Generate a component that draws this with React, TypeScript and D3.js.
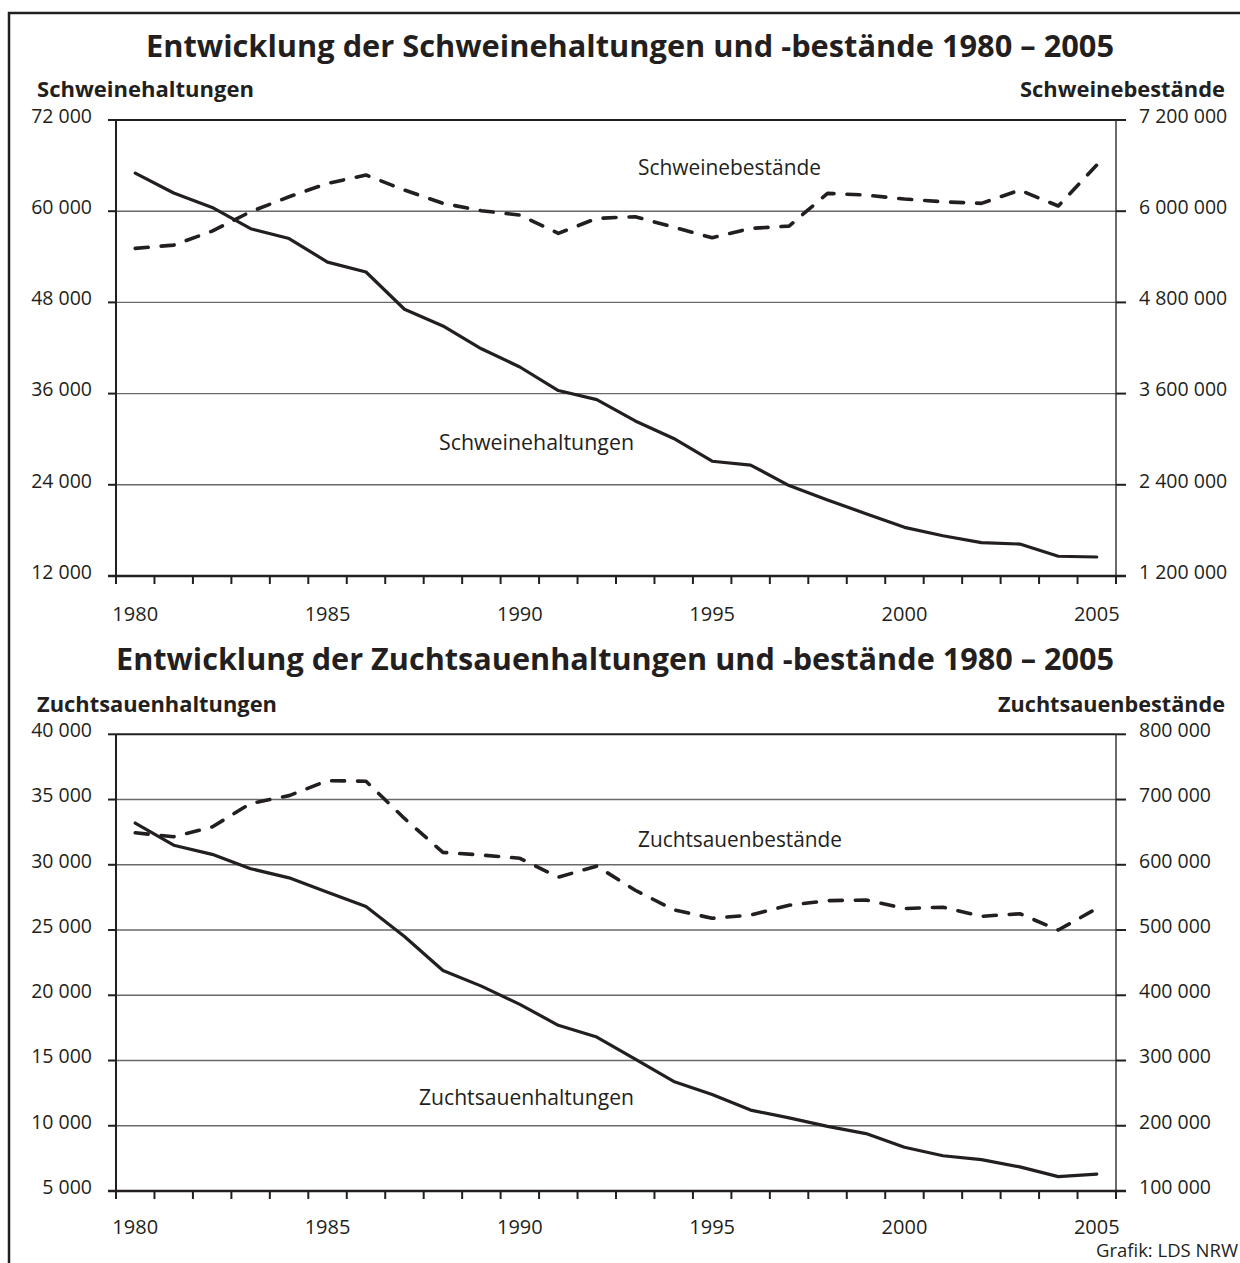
import React from 'react';
import * as d3 from 'd3';

// ---------- data ----------
const years = [1980, 1981, 1982, 1983, 1984, 1985, 1986, 1987, 1988, 1989, 1990, 1991, 1992,
  1993, 1994, 1995, 1996, 1997, 1998, 1999, 2000, 2001, 2002, 2003, 2004, 2005];
const yearLabels = [1980, 1985, 1990, 1995, 2000, 2005];

const schweineHaltungen = [65000, 62400, 60500, 57700, 56400, 53300, 52000, 47100, 44900, 41900,
  39500, 36400, 35200, 32400, 30100, 27100, 26600, 23900, 22000, 20200, 18400, 17300, 16400, 16200, 14600, 14500];
const schweineBestaende = [5511000, 5554000, 5738000, 5993000, 6190000, 6366000, 6476000, 6278000,
  6103000, 6006000, 5949000, 5708000, 5906000, 5927000, 5790000, 5650000, 5774000, 5804000, 6235000,
  6212000, 6160000, 6124000, 6103000, 6278000, 6068000, 6607000];

const zuchtHaltungen = [33200, 31500, 30800, 29700, 29000, 27900, 26800, 24500, 21900, 20700, 19300,
  17700, 16800, 15100, 13400, 12400, 11200, 10600, 9950, 9400, 8350, 7700, 7400, 6850, 6100, 6300];
const zuchtBestaende = [649000, 643000, 658000, 694000, 706000, 729000, 728000, 671000, 619000, 615000,
  610000, 581000, 598000, 561000, 531000, 518000, 523000, 538000, 545000, 546000, 533000, 535000,
  521000, 525000, 500000, 533000];

const leftTicksTop = [12000, 24000, 36000, 48000, 60000, 72000];
const rightTicksTop = [1200000, 2400000, 3600000, 4800000, 6000000, 7200000];
const leftTicksBottom = [5000, 10000, 15000, 20000, 25000, 30000, 35000, 40000];
const rightTicksBottom = [100000, 200000, 300000, 400000, 500000, 600000, 700000, 800000];

// ---------- style ----------
const INK = '#231f20';
const GRID = '#6a6a6a';
const FONT = '"Open Sans", "Noto Sans", sans-serif';
const X0 = 116;
const X1 = 1116;

const fmt = d3.formatLocale({ decimal: ',', thousands: ' ', grouping: [3], currency: ['', ''] }).format(',d');

type PanelProps = {
  top: number;
  bottom: number;
  leftTicks: number[];
  rightTicks: number[];
  solid: number[];
  dashed: number[];
  title: string;
  titleY: number;
  titleLen: number;
  leftTitle: string;
  leftTitleLen: number;
  rightTitle: string;
  rightTitleLen: number;
  subY: number;
  yearY: number;
  solidLabel: string;
  solidLabelPos: [number, number];
  solidLabelLen: number;
  dashedLabel: string;
  dashedLabelPos: [number, number];
  dashedLabelLen: number;
};

function Panel(p: PanelProps) {
  const x = d3.scaleBand<number>().domain(years).range([X0, X1]);
  const cx = (yr: number) => (x(yr) as number) + x.bandwidth() / 2;
  const yL = d3.scaleLinear().domain(d3.extent(p.leftTicks) as [number, number]).range([p.bottom, p.top]);
  const yR = d3.scaleLinear().domain(d3.extent(p.rightTicks) as [number, number]).range([p.bottom, p.top]);
  const lineL = d3.line<number>().x((_, i) => cx(years[i])).y((d) => yL(d));
  const lineR = d3.line<number>().x((_, i) => cx(years[i])).y((d) => yR(d));
  const xTicks = [...years.map((yr) => x(yr) as number), X1];
  const maxL = d3.max(p.leftTicks) as number;

  return (
    <g>
      <text x={1114 - p.titleLen} y={p.titleY} fontFamily={FONT} fontWeight={700} fontSize={30.5} fill={INK}
        textLength={p.titleLen} lengthAdjust="spacingAndGlyphs">
        {p.title}
      </text>
      <text x={37} y={p.subY} fontFamily={FONT} fontWeight={700} fontSize={20.5} fill={INK}
        textLength={p.leftTitleLen} lengthAdjust="spacingAndGlyphs">{p.leftTitle}</text>
      <text x={1225 - p.rightTitleLen} y={p.subY} fontFamily={FONT} fontWeight={700} fontSize={20.5} fill={INK}
        textLength={p.rightTitleLen} lengthAdjust="spacingAndGlyphs">{p.rightTitle}</text>

      {/* gridlines */}
      {p.leftTicks.map((t) => (
        <line key={'g' + t} x1={X0} x2={X1} y1={yL(t)} y2={yL(t)}
          stroke={t === maxL ? INK : GRID} strokeWidth={t === maxL ? 2 : 1.4} />
      ))}

      {/* series */}
      <path d={lineR(p.dashed) as string} fill="none" stroke={INK} strokeWidth={3.6}
        strokeDasharray="13 13" strokeLinecap="round" strokeLinejoin="round" />
      <path d={lineL(p.solid) as string} fill="none" stroke={INK} strokeWidth={3.2}
        strokeLinejoin="round" strokeLinecap="round" />

      {/* axes */}
      <line x1={X0} x2={X0} y1={p.top} y2={p.bottom + 1} stroke={INK} strokeWidth={2} />
      <line x1={X1} x2={X1} y1={p.top} y2={p.bottom} stroke={'#3a3a3a'} strokeWidth={1.5} />
      <line x1={X0 - 8} x2={X1 + 10} y1={p.bottom} y2={p.bottom} stroke={INK} strokeWidth={2.4} />
      {xTicks.map((tx, i) => (
        <line key={'xt' + i} x1={tx} x2={tx} y1={p.bottom} y2={p.bottom + 8} stroke={INK} strokeWidth={2} />
      ))}
      {p.leftTicks.map((t) => (
        <line key={'lt' + t} x1={X0 - 8} x2={X0} y1={yL(t)} y2={yL(t)} stroke={INK} strokeWidth={2} />
      ))}
      {p.rightTicks.map((t) => (
        <line key={'rt' + t} x1={X1} x2={X1 + 10} y1={yR(t)} y2={yR(t)} stroke={INK} strokeWidth={2} />
      ))}

      {/* tick labels */}
      {p.leftTicks.map((t) => (
        <text key={'ll' + t} x={92} y={yL(t) + 2.8} textAnchor="end" fontFamily={FONT} fontSize={19.5} fill={INK}>
          {fmt(t)}
        </text>
      ))}
      {p.rightTicks.map((t) => (
        <text key={'rl' + t} x={1139} y={yR(t) + 2.8} fontFamily={FONT} fontSize={19.5} fill={INK}>
          {fmt(t)}
        </text>
      ))}
      {yearLabels.map((yr) => (
        <text key={'yl' + yr} x={cx(yr)} y={p.yearY} textAnchor="middle" fontFamily={FONT} fontSize={20} fill={INK}>
          {yr}
        </text>
      ))}

      {/* series labels */}
      <text x={p.solidLabelPos[0]} y={p.solidLabelPos[1]} fontFamily={FONT} fontSize={21} fill={INK}
        textLength={p.solidLabelLen} lengthAdjust="spacingAndGlyphs">{p.solidLabel}</text>
      <text x={p.dashedLabelPos[0]} y={p.dashedLabelPos[1]} fontFamily={FONT} fontSize={21} fill={INK}
        textLength={p.dashedLabelLen} lengthAdjust="spacingAndGlyphs">{p.dashedLabel}</text>
    </g>
  );
}

export default function App() {
  return (
    <svg width={1240} height={1263} viewBox="0 0 1240 1263"
      style={{ position: 'absolute', left: 0, top: 0, display: 'block', background: '#fff' }}>
      <rect x={0} y={0} width={1240} height={1263} fill="#fff" />
      <rect x={9} y={13} width={1400} height={1400} fill="none" stroke={INK} strokeWidth={2.5} />
      <Panel
        top={120} bottom={576}
        leftTicks={leftTicksTop} rightTicks={rightTicksTop}
        solid={schweineHaltungen} dashed={schweineBestaende}
        title="Entwicklung der Schweinehaltungen und -bestände 1980 – 2005" titleY={57} titleLen={968}
        leftTitle="Schweinehaltungen" leftTitleLen={217}
        rightTitle="Schweinebestände" rightTitleLen={205} subY={97}
        yearY={621}
        solidLabel="Schweinehaltungen" solidLabelPos={[439, 450]} solidLabelLen={195}
        dashedLabel="Schweinebestände" dashedLabelPos={[638, 175]} dashedLabelLen={183}
      />
      <Panel
        top={734.3} bottom={1191}
        leftTicks={leftTicksBottom} rightTicks={rightTicksBottom}
        solid={zuchtHaltungen} dashed={zuchtBestaende}
        title="Entwicklung der Zuchtsauenhaltungen und -bestände 1980 – 2005" titleY={670} titleLen={998}
        leftTitle="Zuchtsauenhaltungen" leftTitleLen={240}
        rightTitle="Zuchtsauenbestände" rightTitleLen={227} subY={711.5}
        yearY={1234}
        solidLabel="Zuchtsauenhaltungen" solidLabelPos={[419, 1105]} solidLabelLen={215}
        dashedLabel="Zuchtsauenbestände" dashedLabelPos={[638, 847]} dashedLabelLen={204}
      />
      <text x={1238} y={1257} textAnchor="end" fontFamily={FONT} fontSize={18.5} fill={INK}>Grafik: LDS NRW</text>
    </svg>
  );
}
